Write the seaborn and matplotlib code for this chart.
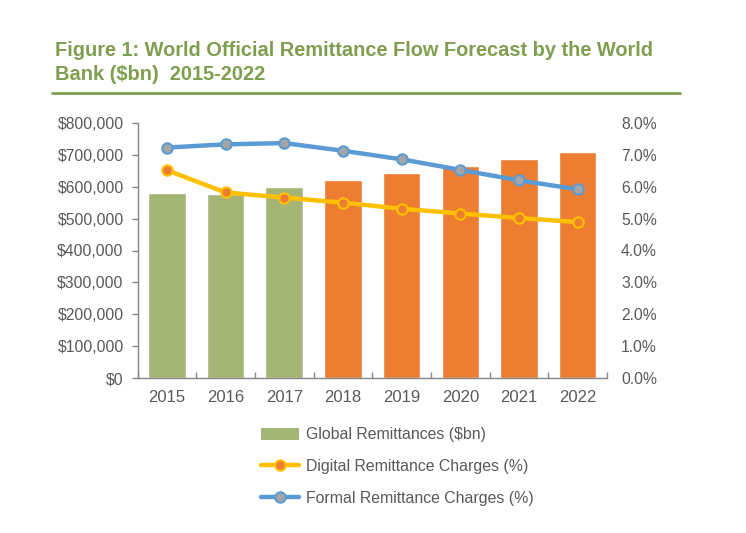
import matplotlib
matplotlib.use("Agg")
import matplotlib.pyplot as plt
import seaborn as sns
import pandas as pd
import numpy as np
from matplotlib.patches import Patch
from matplotlib.lines import Line2D
from matplotlib.ticker import FuncFormatter, FixedLocator
from matplotlib.colors import to_hex

years = ["2015", "2016", "2017", "2018", "2019", "2020", "2021", "2022"]
remittances = [581000, 576000, 599000, 620000, 643000, 665000, 687000, 708000]
digital_charges = [6.52, 5.82, 5.66, 5.50, 5.31, 5.16, 5.02, 4.89]
formal_charges = [7.23, 7.33, 7.37, 7.13, 6.86, 6.53, 6.20, 5.92]
bar_colors = ["#A5B576"] * 3 + ["#ED7D31"] * 5

sns.set_theme(style="white")
plt.rcParams["font.family"] = ["Liberation Sans", "DejaVu Sans"]

text_gray = "#595959"
axis_gray = "#868686"
title_green = "#7F9F4F"
blue = "#5B9BD5"
yellow = "#FFC000"

fig = plt.figure(figsize=(7.46, 5.33), dpi=100)
ax = fig.add_axes([137.5 / 746, 1 - 378 / 533, (607 - 137.5) / 746, (378 - 123) / 533])

df = pd.DataFrame({"year": years, "rem": remittances})
sns.barplot(data=df, x="year", y="rem", hue="year", palette=bar_colors,
            legend=False, width=0.64, ax=ax, saturation=1)
ax.set_xlim(-0.5, len(years) - 0.5)
ax.set_ylim(0, 800000)
ax.yaxis.set_major_locator(FixedLocator(np.arange(0, 800001, 100000)))
ax.yaxis.set_major_formatter(FuncFormatter(lambda v, p: f"${v:,.0f}"))
ax.set_xlabel("")
ax.set_ylabel("")

for side in ["top", "right"]:
    ax.spines[side].set_visible(False)
for side in ["left", "bottom"]:
    ax.spines[side].set_color(axis_gray)
    ax.spines[side].set_linewidth(1.0)

ax.tick_params(axis="y", which="major", direction="out", length=4, width=1,
               color=axis_gray, labelsize=11.3, labelcolor=text_gray, left=True, pad=6)
ax.tick_params(axis="x", which="major", length=0, labelsize=12, labelcolor=text_gray, pad=9)
ax.set_xticks(np.arange(-0.5, len(years) + 0.5, 1.0), minor=True)
ax.tick_params(axis="x", which="minor", direction="in", length=4, width=1,
               color=axis_gray, bottom=True)

ax2 = ax.twinx()
ax2.set_ylim(0, 8)
ax2.yaxis.set_major_locator(FixedLocator(np.arange(0, 8.01, 1)))
ax2.yaxis.set_major_formatter(FuncFormatter(lambda v, p: f"{v:.1f}%"))
for side in ["top", "right", "left", "bottom"]:
    ax2.spines[side].set_visible(False)
ax2.tick_params(axis="y", length=0, labelsize=11.3, labelcolor=text_gray, pad=10)

ldf = pd.DataFrame({"year": years, "digital": digital_charges, "formal": formal_charges})
sns.pointplot(data=ldf, x="year", y="formal", color=blue, ax=ax2,
              markers="o", linewidth=3.2, markersize=7.5)
sns.pointplot(data=ldf, x="year", y="digital", color=yellow, ax=ax2,
              markers="o", linewidth=3.2, markersize=7.5)
for ln in ax2.lines:
    c = to_hex(ln.get_color()).lower()
    if c == blue.lower():
        ln.set_markerfacecolor("#A5A5A5")
        ln.set_markeredgecolor(blue)
        ln.set_markeredgewidth(1.5)
    elif c == yellow.lower():
        ln.set_markerfacecolor("#ED7D31")
        ln.set_markeredgecolor(yellow)
        ln.set_markeredgewidth(1.5)
ax2.set_xlim(-0.5, len(years) - 0.5)
ax2.set_xlabel("")
ax2.set_ylabel("")

# Title and rule
fig.text(55 / 746, 1 - 51 / 533, "Figure 1: World Official Remittance Flow Forecast by the World",
         color=title_green, fontsize=14.4, fontweight="bold", va="center", ha="left")
fig.text(55 / 746, 1 - 74 / 533, "Bank ($bn)  2015-2022",
         color=title_green, fontsize=14.4, fontweight="bold", va="center", ha="left")
fig.add_artist(Line2D([52 / 746, 680 / 746], [1 - 93 / 533, 1 - 93 / 533],
                      color=title_green, linewidth=2, transform=fig.transFigure))

handles = [
    Patch(facecolor="#A5B576", edgecolor="none", label="Global Remittances ($bn)"),
    Line2D([0], [0], color=yellow, lw=3.2, marker="o", markersize=7.5,
           markerfacecolor="#ED7D31", markeredgecolor=yellow, markeredgewidth=1.5,
           label="Digital Remittance Charges (%)"),
    Line2D([0], [0], color=blue, lw=3.2, marker="o", markersize=7.5,
           markerfacecolor="#A5A5A5", markeredgecolor=blue, markeredgewidth=1.5,
           label="Formal Remittance Charges (%)"),
]
leg = fig.legend(handles=handles, loc="upper left",
                 bbox_to_anchor=(255 / 746, 1 - 421 / 533), frameon=False,
                 fontsize=11.4, handlelength=2.4, handleheight=0.8,
                 handletextpad=0.45, labelspacing=1.05, borderaxespad=0)
for t in leg.get_texts():
    t.set_color(text_gray)

fig.savefig("out.png", dpi=100)
